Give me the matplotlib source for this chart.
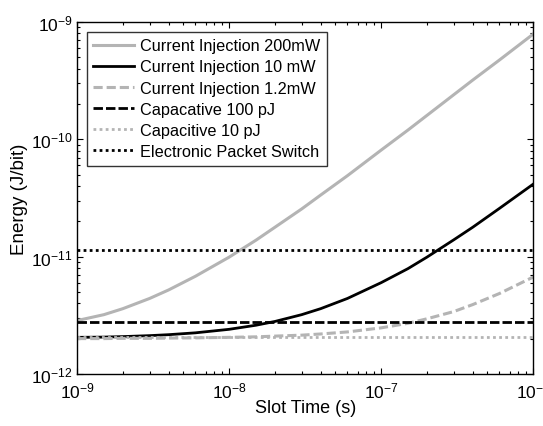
import numpy as np
import matplotlib
matplotlib.use('Agg')
import matplotlib.pyplot as plt

plt.rcParams['font.family'] = ['Liberation Sans', 'DejaVu Sans']

# slot times (ns)
slot_time_ns = [1, 1.5, 2, 3, 4, 6, 10, 15, 20, 30, 40, 60,
                100, 150, 200, 300, 400, 600, 1000]

# energy per bit (J/bit)
ci_200mw = [2.85e-12, 3.2e-12, 3.6e-12, 4.4e-12, 5.2e-12, 6.8e-12, 9.9e-12,
            1.38e-11, 1.78e-11, 2.55e-11, 3.35e-11, 4.9e-11, 8.1e-11,
            1.2e-10, 1.6e-10, 2.4e-10, 3.2e-10, 4.75e-10, 7.9e-10]
ci_10mw = [2.05e-12, 2.06e-12, 2.08e-12, 2.12e-12, 2.16e-12, 2.24e-12, 2.4e-12,
           2.6e-12, 2.8e-12, 3.2e-12, 3.6e-12, 4.4e-12, 6.0e-12,
           7.9e-12, 9.9e-12, 1.39e-11, 1.78e-11, 2.58e-11, 4.15e-11]
ci_1p2mw = [2.0e-12, 2.0e-12, 2.01e-12, 2.01e-12, 2.02e-12, 2.03e-12, 2.05e-12,
            2.07e-12, 2.1e-12, 2.14e-12, 2.19e-12, 2.28e-12, 2.47e-12,
            2.7e-12, 2.95e-12, 3.4e-12, 3.9e-12, 4.85e-12, 6.7e-12]
cap_100pj = 2.75e-12
cap_10pj = 2.07e-12
eps_energy = 1.14e-11

labels = ['Current Injection 200mW', 'Current Injection 10 mW',
          'Current Injection 1.2mW', 'Capacative 100 pJ',
          'Capacitive 10 pJ', 'Electronic Packet Switch']

gray = '#b4b4b4'

fig = plt.figure(figsize=(5.43, 4.27), dpi=100)
ax = fig.add_axes([0.142, 0.122, 0.840, 0.824])

x = np.array(slot_time_ns) * 1e-9
flat = np.ones(len(x))
ax.plot(x, ci_200mw, color=gray, lw=2.2, label=labels[0])
ax.plot(x, ci_10mw, color='black', lw=2.0, label=labels[1])
ax.plot(x, ci_1p2mw, color=gray, lw=2.2, ls=(0, (3, 1.3)), label=labels[2])
ax.plot(x, cap_100pj * flat, color='black', lw=2.0, ls=(0, (3.4, 1.1)), label=labels[3])
ax.plot(x, cap_10pj * flat, color=gray, lw=2.0, ls=(0, (1, 1.2)), label=labels[4])
ax.plot(x, eps_energy * flat, color='black', lw=2.0, ls=(0, (1, 1.2)), label=labels[5])

ax.set_xscale('log')
ax.set_yscale('log')
ax.set_xlim(1e-9, 1e-6)
ax.set_ylim(1e-12, 1e-9)
ax.set_xlabel('Slot Time (s)', fontsize=13, labelpad=-1)
ax.set_ylabel('Energy (J/bit)', fontsize=13.5, labelpad=2)

ax.tick_params(which='both', direction='in', top=True, right=True, labelsize=12.5)
ax.tick_params(which='major', length=4, width=0.8)
ax.tick_params(which='minor', length=2, width=0.8)
ax.tick_params(axis='x', pad=5)
ax.tick_params(axis='y', pad=3)
for s in ax.spines.values():
    s.set_linewidth(1.0)

leg = ax.legend(loc='upper left', fontsize=11.7, frameon=True, fancybox=False,
                edgecolor='black', handlelength=2.5, borderpad=0.4,
                labelspacing=0.38, handletextpad=0.4, borderaxespad=0.6)
leg.get_frame().set_linewidth(1.0)

fig.savefig('out.png', dpi=100)
